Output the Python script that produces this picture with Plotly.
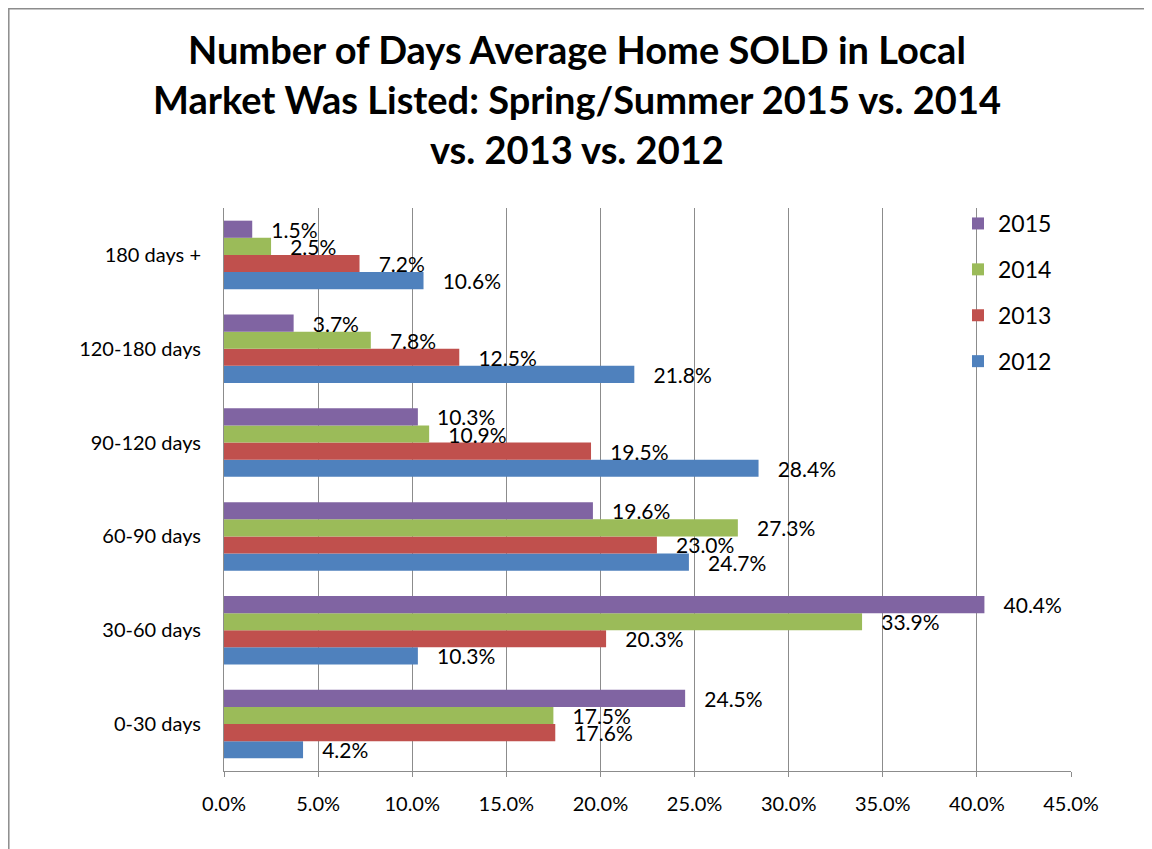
import plotly.graph_objects as go

categories = ["0-30 days", "30-60 days", "60-90 days", "90-120 days", "120-180 days", "180 days +"]
years = ["2012", "2013", "2014", "2015"]
values_2012 = [4.2, 10.3, 24.7, 28.4, 21.8, 10.6]
values_2013 = [17.6, 20.3, 23.0, 19.5, 12.5, 7.2]
values_2014 = [17.5, 33.9, 27.3, 10.9, 7.8, 2.5]
values_2015 = [24.5, 40.4, 19.6, 10.3, 3.7, 1.5]
series = [values_2012, values_2013, values_2014, values_2015]
colors = ["#4F81BD", "#C0504D", "#9BBB59", "#8064A2"]
tick_vals = [0, 5, 10, 15, 20, 25, 30, 35, 40, 45]
tick_text = ["%.1f%%" % v for v in tick_vals]
title_lines = ["Number of Days Average Home SOLD in Local",
               "Market Was Listed: Spring/Summer 2015 vs. 2014",
               "vs. 2013 vs. 2012"]

FONT = "Lato, 'Open Sans', sans-serif"
W, H = 1144, 841
ML, MT = 216, 200
PW, PH = 847, 563
MR = W - ML - PW
MB = H - MT - PH

def py(y):
    # figure pixel y -> paper y
    return (MT + PH - y) / PH

def px(x):
    return (x - ML) / PW

fig = go.Figure()
n = len(years)
for i, (yr, vals, col) in enumerate(zip(years, series, colors)):
    fig.add_trace(go.Bar(
        y=categories, x=vals, name=yr, orientation="h",
        marker=dict(color=col, line=dict(width=0)),
        text=["   %.1f%%" % v for v in vals],
        textposition="outside", constraintext="none", cliponaxis=False,
        textfont=dict(size=21, color="#000000", family=FONT),
        legendgroup=yr, legendrank=1000 + (n - i),
    ))

fig.add_shape(type="rect", xref="paper", yref="paper",
              x0=px(0.8), x1=px(1139), y0=py(900), y1=py(0.8),
              line=dict(color="#8c8c8c", width=1.5), fillcolor="rgba(0,0,0,0)", layer="below")

for i, line in enumerate(title_lines):
    fig.add_annotation(
        text="<b>%s</b>" % line, xref="paper", yref="paper",
        x=px(569), y=py(41 + 50 * i), xanchor="center", yanchor="middle",
        showarrow=False, font=dict(size=38, family=FONT, color="#000000"),
    )

fig.update_layout(
    width=W, height=H,
    margin=dict(l=ML, r=MR, t=MT, b=MB),
    paper_bgcolor="white", plot_bgcolor="white",
    barmode="group", bargap=0.27, bargroupgap=0,
    font=dict(family=FONT, color="#000000"),
    legend=dict(
        x=px(950), y=py(194), xanchor="left", yanchor="top",
        traceorder="grouped", tracegroupgap=13,
        font=dict(size=23, family=FONT), bgcolor="rgba(0,0,0,0)",
    ),
    xaxis=dict(
        range=[0, 45], tickvals=tick_vals, ticktext=tick_text,
        showgrid=True, gridcolor="#8c8c8c", gridwidth=1,
        showline=True, linecolor="#8c8c8c", linewidth=1,
        ticks="outside", ticklen=5, tickcolor="#8c8c8c",
        tickfont=dict(size=20, family=FONT), ticklabelstandoff=10,
        zeroline=False,
    ),
    yaxis=dict(
        categoryorder="array", categoryarray=categories,
        showline=True, linecolor="#8c8c8c", linewidth=1,
        tickfont=dict(size=20, family=FONT), ticklabelstandoff=18,
        showgrid=False,
    ),
)

fig.write_html("out.html")
